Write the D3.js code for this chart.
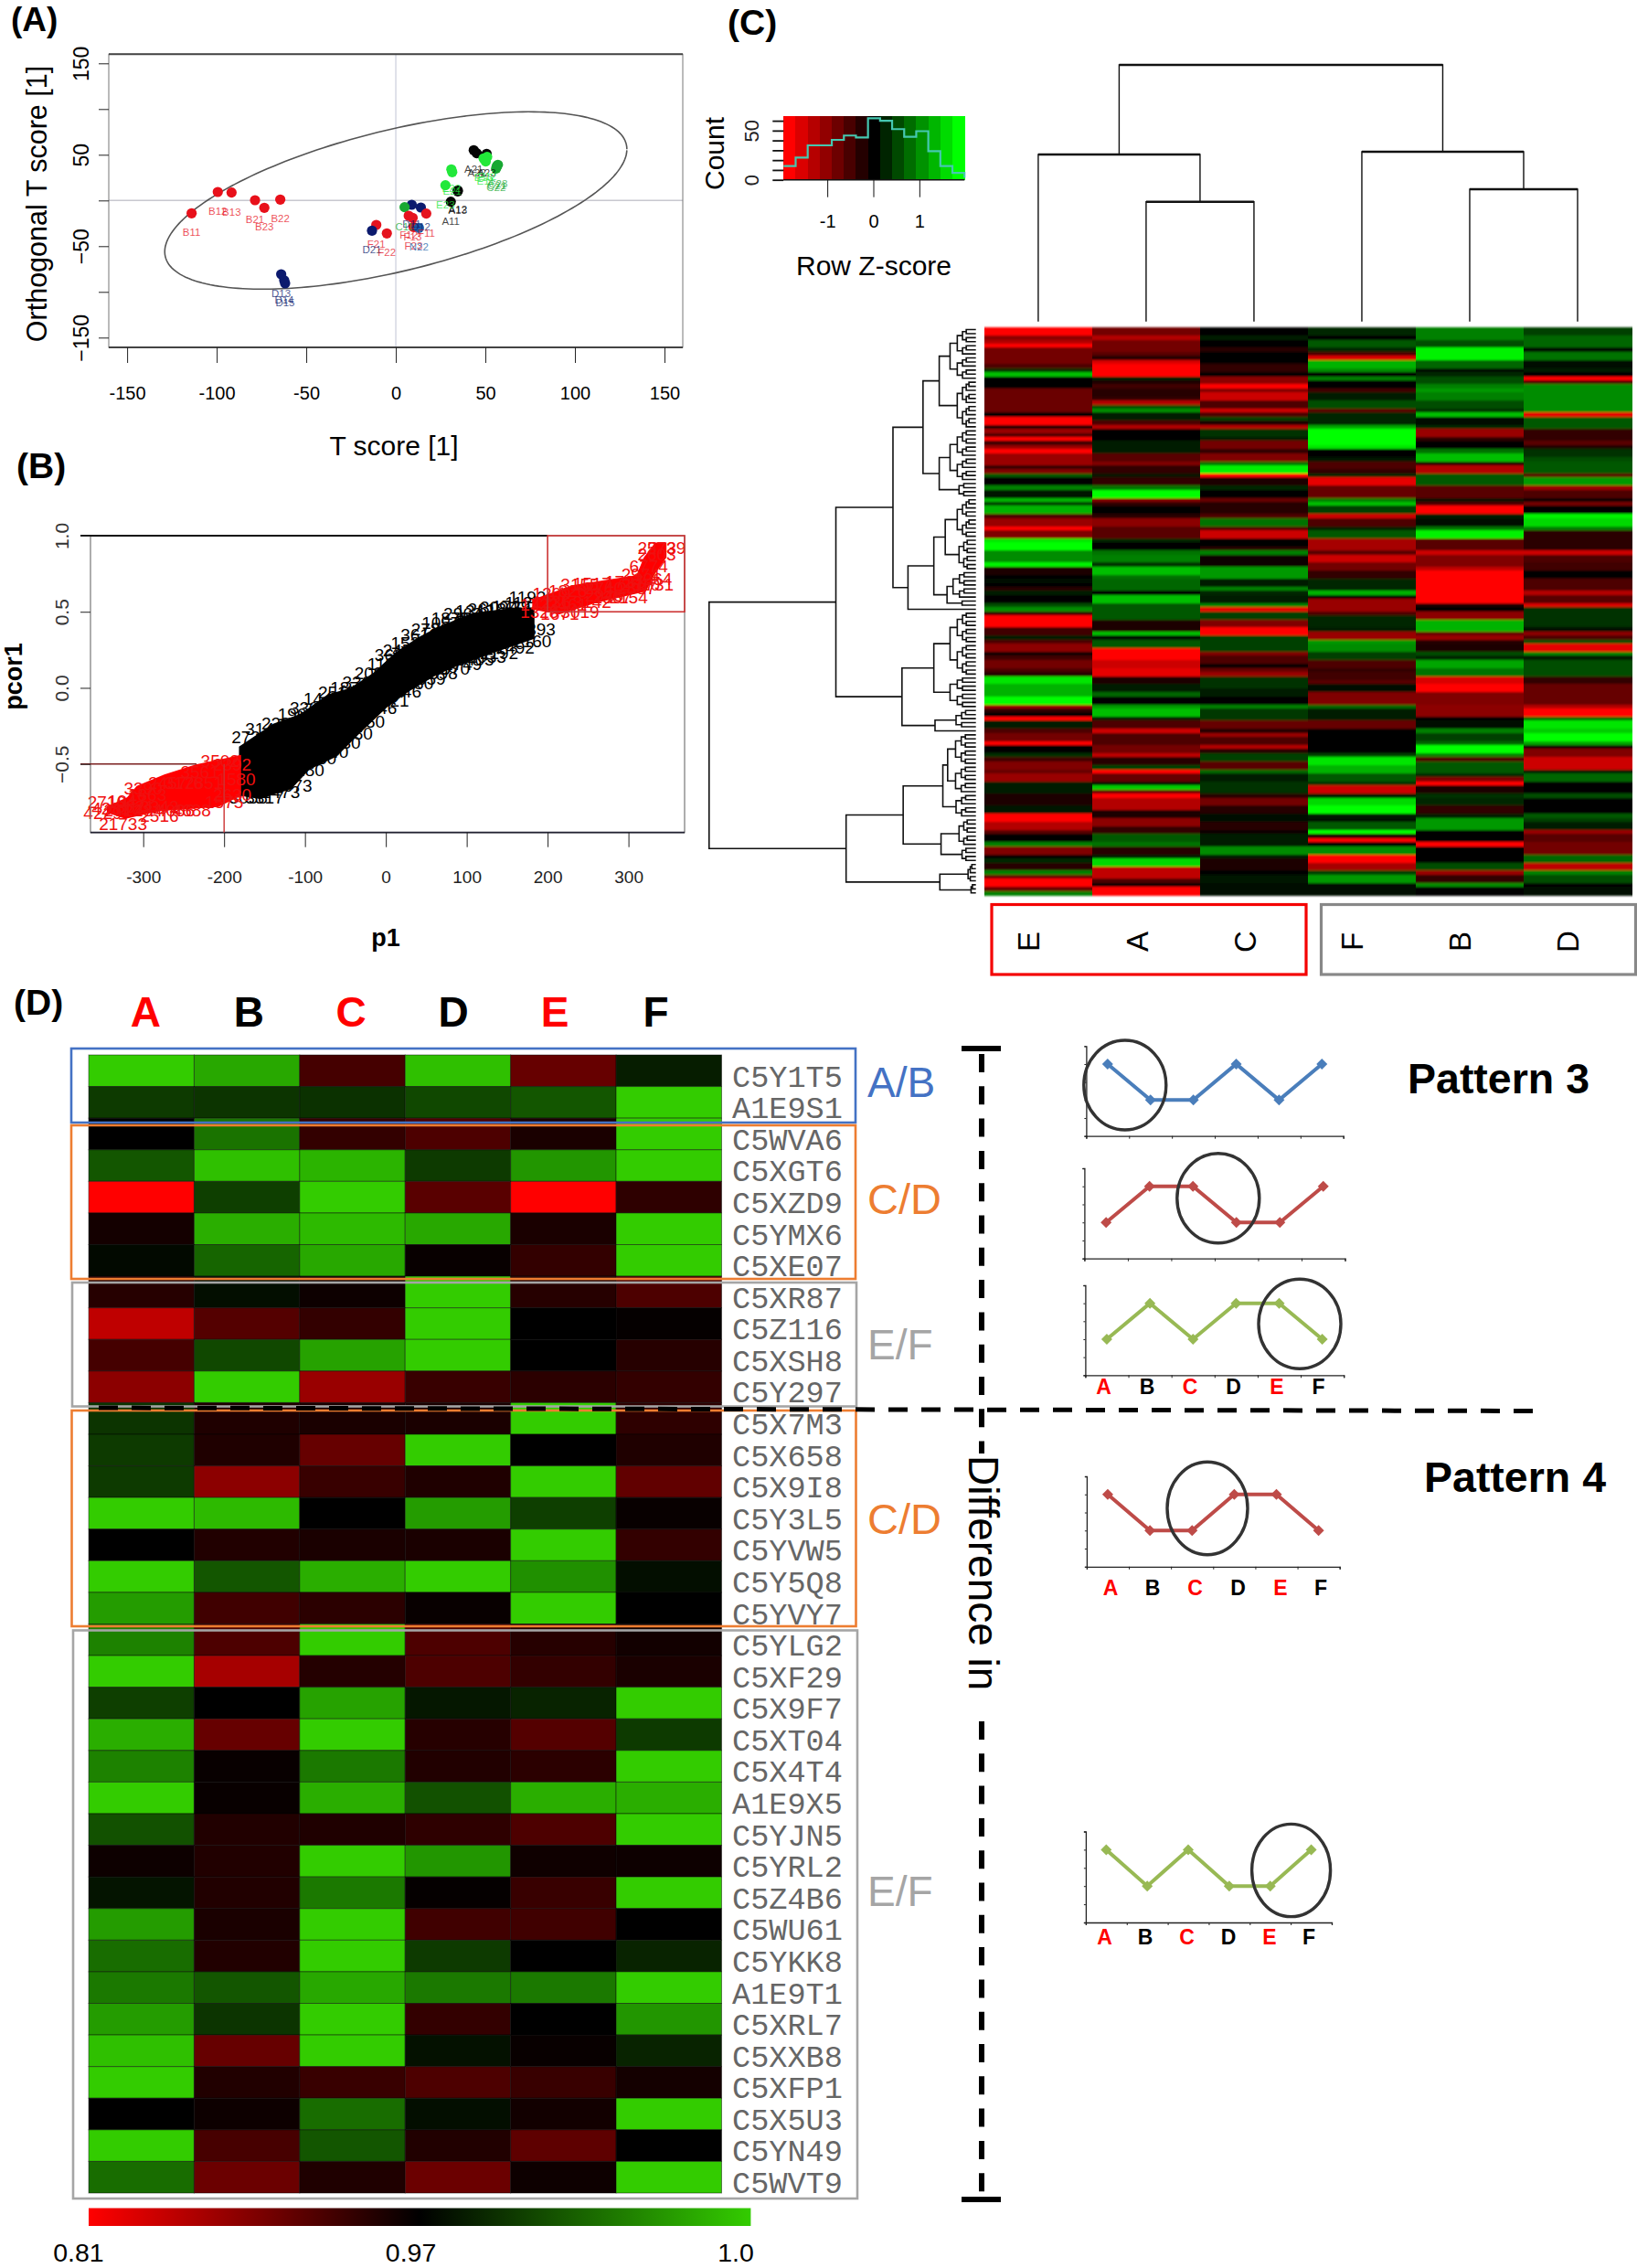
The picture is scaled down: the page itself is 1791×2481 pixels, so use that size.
<!DOCTYPE html>
<html><head><meta charset="utf-8">
<script src="https://cdn.jsdelivr.net/npm/d3@7/dist/d3.min.js"></script>
<style>html,body{margin:0;padding:0;background:#fff}svg{display:block}text{font-family:"Liberation Sans",Arial,sans-serif}</style>
</head><body><svg id="c" width="1791" height="2481" viewBox="0 0 1791 2481"></svg>
<script>
// ---------- Panel A data
const aGroupColors={B:"#e8101a",F:"#e5141f",D:"#0c1a6e",A:"#050505",E:"#22e83a",C:"#18a832",N:"#1c5fa8"};
const aNames=["B11","B12","B13","B21","B23","B22","F21","D21","F22","D11","C11","D12","F11","F12","F13","F23","N22","A11","A13","A12","E23","E22","E21","A21","A22","A23","E13","E12","E11","C21","C22","C23","D13","D14","D15"];
const aX=[-114,-99.4,-91.7,-78.6,-73.4,-64.5,-10.9,-13.3,-5,8.9,4.9,14,17,7.2,9.4,9.9,12.9,30.7,34.6,34.6,27.7,31,31.5,43.5,45.2,50.7,49,51,50.2,56.4,56,57,-64,-62.3,-61.8];
const aY=[-14,9.3,8.7,.3,-8,1,-26.7,-33,-36,-4.7,-7.3,-7.7,-14.3,-16.7,-19,-29,-30,-1.3,10,11,16.7,34,31,55,51.7,51,46,47.7,42.7,37.7,35,39,-80.7,-87.3,-90.7];
const aTicks=[-150,-100,-50,0,50,100,150];
const aYLabels=[150,50,-50,-150];

// ---------- Panel B data
const bBlackUpperP=[-181.6,-139.4,-105.7,-72,-43.8,-15.7,12.4,40.5,63,108,158.5,183.8];
const bBlackUpperV=[-.386,-.236,-.172,-.043,0,.097,.236,.333,.397,.494,.526,.526];
const bBlackLowerP=[183.8,136,91,63,29.2,1.1,-32.6,-60.7,-94.4,-117,-156,-181.6];
const bBlackLowerV=[.322,.236,.15,.086,-.021,-.129,-.3,-.451,-.536,-.665,-.73,-.708];
const bRedLowP=[-345,-320,-308,-274,-235,-179,-179,-207,-280,-322,-345];
const bRedLowV=[-.78,-.72,-.644,-.569,-.504,-.44,-.708,-.783,-.81,-.86,-.82];
const bRedHighP=[181,231.6,310,319,333,347,347,333,321.5,260,214.7,181];
const bRedHighV=[.579,.676,.74,.858,.955,.955,.858,.751,.633,.558,.483,.515];
const bBlackLabels=[[-167,-.32,"2736"],[-150,-.27,"3141"],[-130,-.23,"2287"],[-110,-.17,"1962"],[-95,-.13,"3305"],[-78,-.07,"1448"],[-60,-.03,"2519"],[-45,.0,"1873"],[-30,.04,"3360"],[-15,.1,"2094"],[0,.16,"1186"],[10,.22,"3627"],[20,.25,"2451"],[30,.3,"1539"],[42,.35,"3618"],[55,.39,"2780"],[68,.43,"1057"],[80,.46,"1875"],[95,.49,"2963"],[110,.51,"1342"],[125,.52,"2618"],[140,.53,"3094"],[155,.54,"1729"],[170,.56,"1123"],[175,.6,"1192"],[-170,-.72,"3058"],[-150,-.72,"3317"],[-130,-.68,"1473"],[-115,-.64,"2673"],[-100,-.54,"3180"],[-85,-.46,"2730"],[-70,-.42,"1640"],[-55,-.36,"2230"],[-40,-.3,"3480"],[-25,-.22,"1350"],[-10,-.13,"2846"],[5,-.08,"1921"],[20,-.02,"3046"],[35,.03,"1280"],[50,.06,"2659"],[65,.1,"1398"],[80,.13,"2570"],[95,.16,"1749"],[110,.19,"3405"],[125,.21,"2033"],[140,.23,"2192"],[160,.27,"2492"],[181,.31,"2160"],[186,.39,"1393"]];
const bRedLabels=[[-340,-.79,"4231"],[-325,-.8,"2714"],[-310,-.78,"3821"],[-325,-.89,"21733"],[-295,-.7,"1863"],[-270,-.62,"2457"],[-250,-.62,"3176"],[-230,-.55,"3561"],[-205,-.48,"3502"],[-190,-.5,"2392"],[-185,-.6,"1580"],[-190,-.7,"2630"],[-200,-.75,"1575"],[-240,-.8,"4688"],[-260,-.8,"4086"],[-280,-.78,"3342"],[-300,-.8,"2284"],[-350,-.82,"4229"],[-345,-.75,"2710"],[-320,-.74,"1947"],[-300,-.66,"3390"],[-280,-.84,"2516"],[-225,-.62,"2851"],[335,.92,"2573"],[347,.92,"2739"],[335,.88,"2603"],[325,.8,"6774"],[315,.75,"2974"],[330,.72,"3264"],[332,.68,"1731"],[240,.68,"3155"],[255,.69,"1517"],[270,.66,"2740"],[295,.7,"1727"],[310,.66,"2887"],[280,.6,"2367"],[255,.57,"3142"],[225,.55,"2461"],[205,.57,"1236"],[190,.55,"1723"],[215,.49,"1671"],[240,.5,"3019"],[300,.6,"2154"],[190,.5,"1328"],[205,.62,"1209"],[225,.64,"1826"],[270,.61,"2945"],[315,.68,"2610"]];
const bXTicks=[-300,-200,-100,0,100,200,300];
const bYTicks=[-.5,0,.5,1];

// ---------- Panel C data
const cCols=["E","A","C","F","B","D"];
const cRowCount=140;
const cE=[[0,-1],[2,-.55],[3,-.7],[4,-1],[5,-.45],[9,-.3],[10,.2],[11,.75],[12,0],[15,-.42],[21,0],[22,-1],[24,0],[25,-.6],[26,-.3],[27,-1],[28,-.25],[29,-.6],[30,-1],[31,-.6],[34,-.2],[35,-.5],[36,.35],[37,0],[39,.5],[40,.08],[42,.7],[43,.25],[44,.7],[46,-.3],[47,-.6],[49,-1],[50,-.5],[52,.9],[53,1],[55,.55],[58,.95],[59,-.1],[61,0],[62,.05],[63,0],[64,-.15],[65,.1],[66,0],[68,.3],[69,.55],[70,-.2],[71,-1],[74,-.25],[76,.1],[77,-.3],[78,-.55],[80,-.05],[81,-.25],[82,-.45],[84,-.3],[85,-.15],[86,.9],[88,.7],[91,1],[93,-.6],[94,-.2],[95,0],[96,-1],[97,.1],[99,-.3],[100,-.45],[102,-1],[103,0],[105,.2],[106,-.25],[107,-.5],[109,-.4],[110,-.6],[112,.12],[115,-.12],[118,.08],[120,-1],[122,-.7],[124,-.35],[125,0],[127,.5],[128,-.5],[130,0],[131,.15],[132,-.15],[134,.5],[135,-.4],[136,-1],[138,-.4],[139,.5]];
const cA=[[0,-.45],[2,-.7],[3,-.45],[6,-.35],[7,-.15],[8,-.85],[9,-1],[12,.1],[13,-.1],[14,-.25],[15,-.15],[17,-.2],[18,-.7],[19,.3],[20,.55],[21,.1],[23,-.3],[24,-.7],[25,0],[28,.1],[31,-.35],[33,-.5],[34,-.2],[36,.08],[37,-.2],[39,.45],[40,1],[42,-.5],[43,-.2],[44,0],[46,-.15],[47,-.55],[49,-.35],[52,.15],[53,0],[55,.45],[56,.5],[58,.2],[59,.75],[61,.45],[62,.4],[65,0],[66,.75],[68,.35],[72,-.12],[75,.75],[76,.05],[77,.35],[79,-1],[82,-.8],[84,-.9],[86,-.12],[88,.1],[90,.4],[91,0],[93,.6],[94,.75],[96,.1],[97,-.3],[99,-.8],[100,-.3],[103,-.45],[105,-.75],[106,-.15],[108,.25],[109,-1],[110,-.4],[112,.05],[113,.8],[114,-.4],[115,-1],[116,-.7],[119,-.1],[121,-.55],[123,-.2],[125,.35],[127,.45],[128,-.15],[130,.12],[131,.85],[133,-.75],[136,-.3],[137,0],[138,-1]];
const cC=[[0,0],[2,.1],[3,0],[5,-.15],[6,0],[9,-.2],[11,0],[12,-.55],[14,-1],[15,-.5],[16,-.8],[18,-.3],[20,-.8],[21,-.3],[22,.25],[23,-.1],[24,-.7],[25,.2],[27,.1],[28,-.45],[30,-.2],[31,-.5],[33,.45],[34,.95],[36,-1],[37,-.1],[39,.15],[40,0],[42,-.4],[43,-.15],[46,-.3],[47,.45],[49,-.3],[50,-.8],[52,0],[54,-.15],[55,.5],[56,-.05],[59,.6],[62,.1],[64,.5],[65,.15],[66,.1],[68,.5],[69,-.9],[70,.25],[72,-.5],[74,-1],[76,.25],[80,-.5],[81,-.3],[83,-.05],[84,-.4],[85,-.6],[86,.2],[89,.1],[91,0],[93,.5],[94,.22],[97,-.4],[99,-.15],[100,-.6],[101,-.3],[103,-.7],[104,-.15],[105,.25],[107,-.35],[109,.4],[110,.12],[112,.2],[115,-.15],[116,-.45],[118,-.15],[120,.03],[122,-.15],[124,-.05],[125,.12],[128,.55],[130,.1],[131,-.12],[134,0],[135,.08],[137,.05]];
const cF=[[0,.15],[2,0],[3,.35],[5,.15],[6,-.3],[7,-.85],[8,.7],[10,.55],[11,0],[12,.5],[13,0],[15,-.25],[16,.1],[18,.3],[20,-.35],[21,.15],[24,.65],[25,1],[29,.9],[30,0],[32,.08],[33,-.3],[35,-.2],[36,.15],[37,-.9],[39,-.4],[42,.5],[43,.75],[44,.25],[46,-.8],[47,-.3],[49,.1],[50,.35],[52,-.65],[55,-.35],[56,-.8],[58,-.45],[60,-.2],[62,.15],[65,.7],[66,0],[67,-.6],[70,-.3],[71,.15],[74,.1],[75,-.6],[77,.6],[78,.55],[80,.25],[82,-.3],[84,-.2],[85,-.25],[87,-.35],[88,.05],[90,-.5],[93,.4],[94,.12],[97,-.4],[99,0],[105,.25],[106,.9],[108,.7],[110,.35],[112,.2],[113,-.8],[115,.1],[116,.85],[118,1],[120,.1],[121,.03],[122,.35],[124,1],[125,-.1],[126,-1],[127,-.02],[128,.55],[130,-1],[132,-.65],[134,.25],[135,.6],[137,.03]];
const cB=[[0,.5],[3,.3],[5,.95],[8,.4],[10,.05],[11,.15],[12,.3],[14,.5],[15,.6],[16,.5],[18,.3],[20,.2],[21,.75],[22,.03],[24,.15],[25,-.6],[27,-.2],[28,0],[30,.45],[31,.75],[33,-.1],[34,-.7],[36,.35],[39,-.35],[42,.03],[43,-.3],[44,-1],[46,.1],[47,.05],[49,.45],[50,.95],[52,-.35],[55,-.8],[56,-.5],[59,-.75],[60,-1],[68,-.1],[69,0],[70,-.55],[72,.7],[75,-.4],[76,-.6],[77,-.15],[78,-.1],[80,.3],[81,.15],[82,.65],[84,.45],[86,-.85],[88,-1],[90,-.5],[93,-.55],[96,0],[97,.05],[99,.5],[100,.25],[102,.4],[103,1],[105,.5],[106,-.3],[107,.35],[110,.15],[111,-.5],[112,-1],[113,-.1],[115,.2],[116,.15],[118,-.2],[120,.1],[121,.6],[124,0],[127,-1],[128,0],[132,.3],[134,-.6],[135,-.2],[137,.55],[138,0]];
const cD=[[0,.25],[2,.4],[5,.05],[6,.45],[8,.05],[10,.1],[11,0],[12,-1],[13,-.3],[14,.55],[21,-.9],[22,.35],[25,-.2],[28,-.35],[29,-.1],[30,.2],[32,.3],[33,.35],[36,-.35],[37,.6],[39,-.6],[40,-.3],[42,0],[43,-.45],[44,-.02],[46,.95],[47,.85],[49,.5],[50,-.16],[55,-.8],[56,-.3],[58,-.25],[60,0],[62,-.3],[65,-.7],[66,-.35],[68,-.85],[69,.2],[74,.05],[75,-.55],[76,-.3],[77,.3],[78,-.9],[80,.5],[81,.1],[82,.3],[86,-.2],[88,-.4],[93,-.7],[94,-1],[96,.4],[97,.9],[99,.8],[100,1],[102,.65],[103,-.05],[104,-.5],[106,-.8],[109,.1],[110,.4],[112,0],[115,.3],[116,0],[120,.35],[121,.25],[122,.1],[124,-.6],[125,-.35],[127,-.45],[130,.4],[132,-.75],[134,.5],[135,.3],[137,0],[138,.05]];
const cColumnRuns=[cE,cA,cC,cF,cB,cD];
// histogram key
const keyCounts=[14,22.5,35,35,40.6,45,43,62.5,60,51.5,43.7,49.4,29,14,7];
const keyCountTicks=[0,10,20,30,40,50,60];
const keyZTicks=[-1,0,1];
// column dendrogram: merge heights
const colTree={h:280.7,c:[{h:182.7,c:[0,{h:131,c:[1,2]}]},{h:185.7,c:[3,{h:144.7,c:[4,5]}]}]};
// row dendrogram: leaf groups [firstRow,lastRow,height]
const G=[[0,12,43],[13,24,31],[25,37,43],[38,41,28],[42,51,31],[52,59,28],[60,66,38],[67,68,23],[70,85,43],[86,93,43],[94,98,33],[100,114,47],[115,120,33],[121,127,28],[128,131,23],[132,136,13],[137,139,8]];
const rowTree=[444,[233,[138,[88,[61,{g:0},{g:1}],[61,{g:2},{g:3}]],[113,[70,[51,{g:4},{g:5}],[48,{g:6},{g:7}]],{r:69}]],[123,[70,{g:8},{g:9}],[68,{g:10},{r:99}]]],[216,[121,[55,{g:11},{g:12}],[58,{g:13},{g:14}]],[60,{g:15},{g:16}]]];

// ---------- Panel D data
const dCols=["A","B","C","D","E","F"];
const dRed=new Set(["A","C","E"]);
const dRows=["C5Y1T5","A1E9S1","C5WVA6","C5XGT6","C5XZD9","C5YMX6","C5XE07","C5XR87","C5Z116","C5XSH8","C5Y297","C5X7M3","C5X658","C5X9I8","C5Y3L5","C5YVW5","C5Y5Q8","C5YVY7","C5YLG2","C5XF29","C5X9F7","C5XT04","C5X4T4","A1E9X5","C5YJN5","C5YRL2","C5Z4B6","C5WU61","C5YKK8","A1E9T1","C5XRL7","C5XXB8","C5XFP1","C5X5U3","C5YN49","C5WVT9"];
const dValues=[[1,.7,-.27,.9,-.4,.1],[.2,.18,.17,.25,.3,1],[0,.4,-.2,-.3,-.1,1],[.3,.9,.8,.2,.55,1],[-1,.22,1,-.35,-1,-.18],[-.08,.75,.85,.7,-.1,1],[.03,.35,.7,-.03,-.2,1],[-.15,.05,-.05,1,-.15,-.3],[-.75,-.33,-.2,1,0,-.02],[-.27,.25,.65,1,0,-.15],[-.55,1,-.6,-.22,-.17,-.2],[.18,-.12,-.1,-.1,1,-.18],[.2,-.12,-.4,1,0,-.12],[.2,-.55,-.22,-.12,1,-.38],[1,.85,0,.6,.22,-.03],[0,-.13,-.1,-.1,1,-.2],[1,.3,.75,1,.5,.05],[.6,-.25,-.17,-.03,1,0],[.45,-.3,1,-.3,-.15,-.07],[1,-.65,-.14,-.3,-.2,-.1],[.22,0,.65,.08,.12,1],[.75,-.4,1,-.15,-.33,.2],[.45,-.03,.42,-.13,-.17,1],[1,-.03,.75,.28,.75,.75],[.28,-.13,-.12,-.18,-.3,1],[-.05,-.13,1,.55,-.06,-.05],[.07,-.13,.42,-.02,-.22,1],[.6,-.1,1,-.25,-.25,0],[.38,-.13,1,.2,0,.12],[.42,.3,.7,.42,.42,1],[.6,.18,1,-.2,0,.55],[.9,-.4,1,.06,-.03,.12],[1,-.13,-.22,-.3,-.22,-.08],[0,-.05,.38,.05,-.07,1],[1,-.28,.3,-.13,-.37,0],[.38,-.42,-.12,-.42,-.05,1]];
const dLegendLabels=["0.81","0.97","1.0"];
// pattern mini charts
const blueLine=[4,2,2,4,2,4], redLine=[2,4,4,2,2,4], greenLine=[2,4,2,4,4,2], redLine2=[4,2,2,4,4,2], greenLine2=[4,2,4,2,2,4];

// ========== drawing ==========
const svg=d3.select("#c");
const defs=svg.append("defs");
defs.append("filter").attr("id","vblur").attr("x","-2%").attr("y","-2%").attr("width","104%").attr("height","104%")
  .append("feGaussianBlur").attr("stdDeviation","0 1.3");
function T(x,y,s,o={}){
  const t=svg.append("text").attr("x",x).attr("y",y).text(s)
    .attr("font-size",o.size||20).attr("fill",o.fill||"#000")
    .attr("text-anchor",o.anchor||"start");
  if(o.bold)t.attr("font-weight","bold");
  if(o.rot!==undefined)t.attr("transform",`rotate(${o.rot} ${x} ${y})`);
  return t;
}
// panel letters
T(12,34,"(A)",{size:37,bold:true});T(18,523,"(B)",{size:39,bold:true});T(796,38,"(C)",{size:39,bold:true});T(15,1110,"(D)",{size:39,bold:true});

// ---- Panel A
(function(){
  const L=119,R=747,Tp=59.3,B=380;
  const x=d3.scaleLinear().domain([-150,150]).range([139.1,727]);
  const y=d3.scaleLinear().domain([-150,150]).range([369.3,69.3]);
  const g=svg.append("g");
  g.append("line").attr("x1",x(0)).attr("x2",x(0)).attr("y1",Tp).attr("y2",B).attr("stroke","#d5d7e3").attr("stroke-width",1.5);
  g.append("line").attr("x1",L).attr("x2",R).attr("y1",y(0)).attr("y2",y(0)).attr("stroke","#c8c8cf").attr("stroke-width",1.5);
  g.append("rect").attr("x",L).attr("y",Tp).attr("width",R-L).attr("height",B-Tp).attr("fill","none").attr("stroke","#777").attr("stroke-width",1);
  g.append("line").attr("x1",L).attr("x2",R).attr("y1",Tp).attr("y2",Tp).attr("stroke","#444").attr("stroke-width",2);
  g.append("line").attr("x1",L).attr("x2",R).attr("y1",B).attr("y2",B).attr("stroke","#444").attr("stroke-width",2);
  const ax=g.append("g").attr("transform",`translate(0,${B})`).call(d3.axisBottom(x).tickValues(aTicks).tickSize(17).tickPadding(26).tickFormat(d=>String(d)));
  ax.select(".domain").remove();ax.selectAll("text").attr("font-size",20).attr("font-family","Liberation Sans");ax.selectAll("line").attr("stroke","#222");
  const ay=g.append("g").attr("transform",`translate(${L},0)`).call(d3.axisLeft(y).tickValues(aTicks).tickSize(11).tickFormat(d=>aYLabels.includes(d)?String(d).replace("-","\u2212"):""));
  ay.select(".domain").remove();ay.selectAll("line").attr("stroke","#222");
  ay.selectAll("text").attr("font-size",23).attr("font-family","Liberation Sans").attr("text-anchor","middle").attr("x",0).attr("dy",0).attr("transform","translate(-22,0) rotate(-90)");
  // 95% ellipse
  const ell=d3.line().x(t=>x(129*Math.cos(t))).y(t=>y(97*Math.cos(t-0.955)));
  g.append("path").attr("d",ell(d3.range(0,6.3,0.03))).attr("fill","none").attr("stroke","#555").attr("stroke-width",1.6);
  g.selectAll("circle.p").data(aNames).join("circle").attr("cx",(d,i)=>x(aX[i])).attr("cy",(d,i)=>y(aY[i])).attr("r",5.6).attr("fill",d=>aGroupColors[d[0]]);
  g.selectAll("text.l").data(aNames).join("text").attr("x",(d,i)=>x(aX[i])).attr("y",(d,i)=>y(aY[i])+25).attr("text-anchor","middle").attr("font-size",11.5).attr("fill",d=>aGroupColors[d[0]]).attr("fill-opacity",.75).text(d=>d);
  T(431,498,"T score [1]",{size:30,anchor:"middle"});
  T(51,223,"Orthogonal T score [1]",{size:30.5,anchor:"middle",rot:-90});
})();

// ---- Panel B
(function(){
  const L=99,R=749,Tp=586,B=910.7;
  const x=d3.scaleLinear().domain([-300,300]).range([156.7,687.6]);
  const y=d3.scaleLinear().domain([-.5,1]).range([835.7,586]);
  const g=svg.append("g");
  const blob=(P,V,fill)=>g.append("path").attr("d",d3.line().x((d,i)=>x(P[i])).y((d,i)=>y(V[i])).curve(d3.curveLinearClosed)(P)).attr("fill",fill);
  const labels=(arr,fill)=>g.append("g").selectAll("text").data(arr).join("text").attr("x",d=>x(d[0])).attr("y",d=>y(d[1])+7).attr("text-anchor","middle").attr("font-size",19).attr("fill",fill).text(d=>d[2]);
  blob(bBlackUpperP.concat(bBlackLowerP),bBlackUpperV.concat(bBlackLowerV),"#000");
  labels(bBlackLabels,"#000");
  blob(bRedLowP,bRedLowV,"#ff0000");blob(bRedHighP,bRedHighV,"#ff0000");
  labels(bRedLabels,"#f01010");
  g.append("rect").attr("x",L).attr("y",Tp).attr("width",R-L).attr("height",B-Tp).attr("fill","none").attr("stroke","#777").attr("stroke-width",1.2);
  g.append("line").attr("x1",88).attr("x2",x(200)).attr("y1",Tp).attr("y2",Tp).attr("stroke","#111").attr("stroke-width",1.8);
  g.append("line").attr("x1",L).attr("x2",R).attr("y1",B).attr("y2",B).attr("stroke","#223").attr("stroke-width",1.8);
  g.append("rect").attr("x",x(200)).attr("y",Tp).attr("width",R-x(200)).attr("height",y(.5)-Tp).attr("fill","none").attr("stroke","#cc3333").attr("stroke-width",1.6);
  g.append("line").attr("x1",88).attr("x2",215).attr("y1",y(-.5)).attr("y2",y(-.5)).attr("stroke","#7a2020").attr("stroke-width",1.6);
  g.append("line").attr("x1",x(-200)).attr("x2",x(-200)).attr("y1",y(-.5)).attr("y2",B).attr("stroke","#cc3333").attr("stroke-width",1.4);
  const ax=g.append("g").attr("transform",`translate(0,${B})`).call(d3.axisBottom(x).tickValues(bXTicks).tickSize(16).tickPadding(26).tickFormat(d=>String(d)));
  ax.select(".domain").remove();ax.selectAll("text").attr("font-size",19).attr("font-family","Liberation Sans").attr("fill","#222");ax.selectAll("line").attr("stroke","#222");
  const ay=g.append("g").attr("transform",`translate(${L},0)`).call(d3.axisLeft(y).tickValues(bYTicks).tickSize(11).tickFormat(d=>d3.format(".1f")(d).replace("-","\u2212")));
  ay.select(".domain").remove();ay.selectAll("line").attr("stroke","#222");
  ay.selectAll("text").attr("font-size",21).attr("font-family","Liberation Sans").attr("fill","#333").attr("text-anchor","middle").attr("x",0).attr("dy",0).attr("transform","translate(-24,0) rotate(-90)");
  T(422,1035,"p1",{size:27,bold:true,anchor:"middle"});
  T(24,740,"pcor1",{size:27,bold:true,anchor:"middle",rot:-90});
})();

// ---- Panel C
const heatC=d3.scaleLinear().domain([-1,0,1]).range(["#ff0000","#000000","#00ff00"]);
(function(){
  const x=d3.scaleBand().domain(cCols).range([1076.9,1785]);
  const y=d3.scaleBand().domain(d3.range(cRowCount)).range([358.3,979]);
  const g=svg.append("g").attr("filter","url(#vblur)");
  cColumnRuns.forEach((runs,ci)=>{
    runs.forEach((r,i)=>{
      const end=i+1<runs.length?runs[i+1][0]:cRowCount;
      g.append("rect").attr("x",x(cCols[ci])).attr("y",y(r[0])).attr("width",x.bandwidth()+.5).attr("height",(end-r[0])*y.step()+.5).attr("fill",heatC(r[1])).attr("shape-rendering","crispEdges");
    });
  });
  // column dendrogram
  const hY=d3.scaleLinear().domain([0,280.7]).range([351.7,71]);
  const dg=svg.append("g").attr("fill","none").attr("stroke","#111").attr("stroke-width",1.4);
  const leafX=i=>x(cCols[i])+x.bandwidth()/2;
  (function draw(n){
    if(typeof n==="number")return{x:leafX(n),h:0};
    const a=draw(n.c[0]),b=draw(n.c[1]);
    dg.append("path").attr("d",`M${a.x},${hY(a.h)}V${hY(n.h)}H${b.x}V${hY(b.h)}`);
    dg.append("line").attr("x1",a.x).attr("x2",b.x).attr("y1",hY(n.h)).attr("y2",hY(n.h)).attr("stroke-width",2.4);
    return{x:(a.x+b.x)/2,h:n.h};
  })(colTree);
  // row dendrogram
  const rX=d3.scaleLinear().domain([0,444]).range([1067.7,775.8]);
  const rg=svg.append("g").attr("fill","none").attr("stroke","#111").attr("stroke-width",1.6);
  const rowY=r=>y(r)+y.bandwidth()/2;
  function bisect(a,b,h){
    if(a===b)return{y:rowY(a),h:0};
    const m=Math.floor((a+b)/2);
    return link(bisect(a,m,h*.72),bisect(m+1,b,h*.72),h);
  }
  function link(p,q,h){
    rg.append("path").attr("d",`M${rX(p.h)},${p.y}H${rX(h)}V${q.y}H${rX(q.h)}`);
    return{y:(p.y+q.y)/2,h};
  }
  function walk(n){
    if(n.r!==undefined)return{y:rowY(n.r),h:0};
    if(n.g!==undefined){const g0=G[n.g];return bisect(g0[0],g0[1],g0[2]);}
    return link(walk(n[1]),walk(n[2]),n[0]);
  }
  walk(rowTree);
  // group boxes and column labels
  svg.append("rect").attr("x",1085).attr("y",989.5).attr("width",344).attr("height",76.5).attr("fill","none").attr("stroke","#f40000").attr("stroke-width",3.2);
  svg.append("rect").attr("x",1445.5).attr("y",989.5).attr("width",344).attr("height",76.5).attr("fill","none").attr("stroke","#888").attr("stroke-width",3.2);
  const labelX=[1125,1243.5,1362,1479,1597,1715];
  cCols.forEach((c,i)=>T(labelX[i]+12,1030,c,{size:33,anchor:"middle",rot:-90}));
  // key
  const kx=d3.scaleLinear().domain([-1.95,1.98]).range([857.3,1055.2]);
  const ky=d3.scaleLinear().domain([0,65]).range([196.7,126.7]);
  const band=d3.scaleBand().domain(d3.range(keyCounts.length)).range([857.3,1055.2]);
  const kg=svg.append("g");
  const keyColor=d3.scaleLinear().domain([0,7,14]).range(["#ff0000","#000000","#00ff00"]);
  kg.selectAll("rect").data(keyCounts).join("rect").attr("x",(d,i)=>band(i)).attr("y",ky(65)).attr("width",band.bandwidth()+.5).attr("height",ky(0)-ky(65)).attr("fill",(d,i)=>keyColor(i)).attr("shape-rendering","crispEdges");
  const step=d3.line().x((d,i)=>857.3+i*band.step()).y(d=>ky(d)).curve(d3.curveStepAfter);
  kg.append("path").attr("d",step(keyCounts.concat([2]))).attr("fill","none").attr("stroke","#45c8b0").attr("stroke-width",2.2);
  const yA=kg.append("g").attr("transform","translate(857.3,0)").call(d3.axisLeft(ky).tickValues(keyCountTicks).tickSize(12).tickFormat(d=>(d===0||d===50)?String(d):""));
  yA.select(".domain").remove();yA.selectAll("line").attr("stroke","#111").attr("stroke-width",1.8);
  yA.selectAll("text").attr("font-size",22).attr("font-family","Liberation Sans").attr("fill","#222").attr("text-anchor","middle").attr("x",0).attr("dy",0).attr("transform","translate(-27,0) rotate(-90)");
  const xA=kg.append("g").attr("transform","translate(0,196.7)").call(d3.axisBottom(kx).tickValues(keyZTicks).tickSize(19).tickPadding(19).tickFormat(d=>String(d)));
  xA.select(".domain").attr("stroke","#111").attr("stroke-width",1.6).attr("d","M857.3,0H1055.2");
  xA.selectAll("text").attr("font-size",20).attr("font-family","Liberation Sans");xA.selectAll("line").attr("stroke","#111");
  T(956,301,"Row Z-score",{size:30,anchor:"middle"});
  T(792,168,"Count",{size:30,anchor:"middle",rot:-90});
})();

// ---- Panel D
const heatD=d3.scaleLinear().domain([-1,0,.5,1]).range(["#ff0000","#000000","#209000","#33cc00"]);
(function(){
  const x=d3.scaleBand().domain(dCols).range([97,789.5]);
  const y=d3.scaleBand().domain(dRows).range([1154,2399]);
  const g=svg.append("g");
  dRows.forEach((r,i)=>dCols.forEach((c,j)=>{
    g.append("rect").attr("x",x(c)).attr("y",y(r)).attr("width",x.bandwidth()).attr("height",y.bandwidth()).attr("fill",heatD(dValues[i][j])).attr("stroke","#000").attr("stroke-opacity",.45).attr("stroke-width",1);
  }));
  g.selectAll("text.r").data(dRows).join("text").attr("x",801).attr("y",d=>y(d)+y.bandwidth()).attr("font-size",33.6).attr("fill","#666").style("font-family","'Liberation Mono',monospace").text(d=>d);
  const hdrX=[159.4,272.3,384,496,607,717.5];
  dCols.forEach((c,i)=>T(hdrX[i],1123,c,{size:46,bold:true,anchor:"middle",fill:dRed.has(c)?"#ff0000":"#000"}));
  const boxes=[[78,1147,858,81,"#4472c4"],[78,1231,858,168,"#ed7d31"],[79,1403,858,135.5,"#a5a5a5"],[78.5,1543,858,236,"#ed7d31"],[80,1783.5,858,621.5,"#a5a5a5"]];
  boxes.forEach(b=>svg.append("rect").attr("x",b[0]).attr("y",b[1]).attr("width",b[2]).attr("height",b[3]).attr("fill","none").attr("stroke",b[4]).attr("stroke-width",2.6));
  T(949,1200,"A/B",{size:46,fill:"#4472c4"});T(949,1328,"C/D",{size:47,fill:"#ed7d31"});T(949,1487,"E/F",{size:46,fill:"#a5a5a5"});
  T(949,1678,"C/D",{size:47,fill:"#ed7d31"});T(949,2085,"E/F",{size:46,fill:"#a5a5a5"});
  // legend
  const grad=defs.append("linearGradient").attr("id","lg");
  [[0,"#ff0000"],[.5,"#000000"],[1,"#33cc00"]].forEach(s=>grad.append("stop").attr("offset",s[0]).attr("stop-color",s[1]));
  svg.append("rect").attr("x",97).attr("y",2415.5).attr("width",724.4).attr("height",19.5).attr("fill","url(#lg)");
  const lx=[86,449.6,805];
  dLegendLabels.forEach((s,i)=>T(lx[i],2474,s,{size:28.5,anchor:"middle"}));
  // dashed guides
  svg.append("line").attr("x1",108).attr("x2",1689).attr("y1",1540).attr("y2",1543.5).attr("stroke","#000").attr("stroke-width",5).attr("stroke-dasharray","21 15");
  const vg=svg.append("g").attr("stroke","#000");
  vg.append("line").attr("x1",1074).attr("x2",1074).attr("y1",1153).attr("y2",1590).attr("stroke-width",6).attr("stroke-dasharray","20 15.3");
  vg.append("line").attr("x1",1074).attr("x2",1074).attr("y1",1883).attr("y2",2400).attr("stroke-width",6).attr("stroke-dasharray","20 15.3");
  vg.append("line").attr("x1",1052).attr("x2",1095).attr("y1",1147).attr("y2",1147).attr("stroke-width",6);
  vg.append("line").attr("x1",1052).attr("x2",1095).attr("y1",2406).attr("y2",2406).attr("stroke-width",6);
  T(1060,1592,"Difference in",{size:46,rot:90});
  T(1540,1196,"Pattern 3",{size:46.5,bold:true});
  T(1558,1632,"Pattern 4",{size:46.5,bold:true});
})();

// ---- pattern mini charts
const miniLetters=["A","B","C","D","E","F"];
function mini(o){
  const x=d3.scaleLinear().domain([0,6]).range([o.x0,o.x1]);
  const y=d3.scaleLinear().domain([0,5]).range([o.y0,o.y1]);
  const g=svg.append("g");
  const ax=g.append("g").attr("transform",`translate(0,${o.y0})`).call(d3.axisBottom(x).tickValues(d3.range(0,7)).tickSize(3).tickFormat(""));
  const ay=g.append("g").attr("transform",`translate(${o.x0},0)`).call(d3.axisLeft(y).tickValues(d3.range(0,6)).tickSize(2).tickFormat(""));
  [ax,ay].forEach(a=>{a.select(".domain").attr("stroke","#222").attr("stroke-width",1.3);a.selectAll("line").attr("stroke","#222");});
  const px=i=>x(i+.5);
  g.append("path").attr("d",d3.line().x((d,i)=>px(i)).y(d=>y(d))(o.values)).attr("fill","none").attr("stroke",o.color).attr("stroke-width",4);
  g.selectAll("path.m").data(o.values).join("path").attr("d",d3.symbol(d3.symbolSquare,72)).attr("transform",(d,i)=>`translate(${px(i)},${y(d)}) rotate(45)`).attr("fill",o.color);
  g.append("ellipse").attr("cx",o.e[0]).attr("cy",o.e[1]).attr("rx",o.e[2]).attr("ry",o.e[3]).attr("fill","none").attr("stroke","#333").attr("stroke-width",3.4);
  if(o.lx)miniLetters.forEach((c,i)=>T(o.lx[i],o.ly,c,{size:23,bold:true,anchor:"middle",fill:dRed.has(c)?"#ff0000":"#000"}));
}
mini({x0:1188.4,x1:1469.7,y0:1242.7,y1:1144.3,values:blueLine,color:"#4a7ebb",e:[1230.8,1187,45,49]});
mini({x0:1186.4,x1:1471.5,y0:1376.7,y1:1278,values:redLine,color:"#be4b48",e:[1332.8,1310.8,45,49]});
mini({x0:1187.4,x1:1470.2,y0:1504.3,y1:1406,values:greenLine,color:"#98b954",e:[1422,1448.3,45,49],lx:[1207.5,1255,1302,1349.5,1397,1442.5],ly:1525});
mini({x0:1188.9,x1:1465.7,y0:1713.8,y1:1615,values:redLine2,color:"#be4b48",e:[1321,1650,44,50.7],lx:[1215,1261,1307.5,1354.5,1401,1445],ly:1745});
mini({x0:1187.9,x1:1457,y0:2103,y1:2003.5,values:greenLine2,color:"#98b954",e:[1412.6,2046,43,50.6],lx:[1208.5,1253,1298.5,1344,1389,1432],ly:2127});
</script></body></html>
